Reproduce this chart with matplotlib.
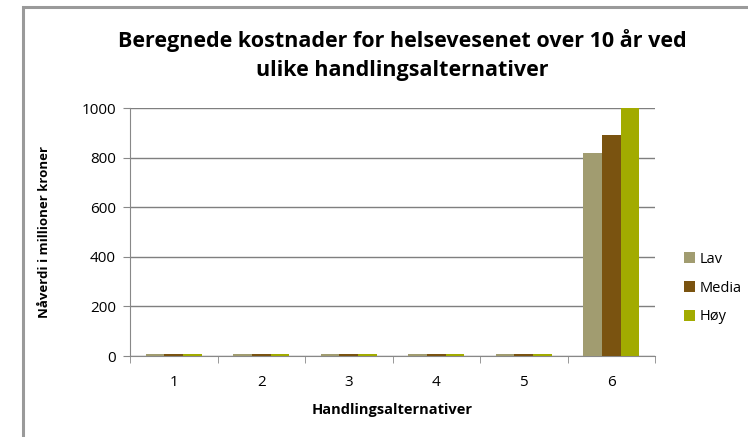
import numpy as np
import matplotlib
matplotlib.use("Agg")
from matplotlib import pyplot as plt
from matplotlib.patches import Rectangle

# data
alternativer = ["1", "2", "3", "4", "5", "6"]
lav = [8, 8, 8, 8, 8, 818]
medium = [8, 8, 8, 8, 8, 891]
hoy = [8, 8, 8, 8, 8, 1000]
serier = ["Lav", "Media", "Høy"]
farger = ["#A19C70", "#7A5310", "#A2AB00"]

plt.rcParams['font.family'] = ['Open Sans', 'DejaVu Sans']

fig = plt.figure(figsize=(7.48, 4.37), dpi=100)
fig.patches.append(Rectangle((23 / 748, -0.1), 1.2, (437 - 7) / 437 + 0.1,
                             transform=fig.transFigure, fill=False,
                             edgecolor="#9a9a9a", linewidth=2.2))

ax = fig.add_axes([130 / 748, 81 / 437, 525 / 748, 248 / 437])

x = np.arange(len(alternativer))
w = 0.215
for i, (vals, navn, farge) in enumerate(zip([lav, medium, hoy], serier, farger)):
    ax.bar(x + (i - 1) * w, vals, width=w, color=farge, label=navn, zorder=3)

ax.set_xlim(-0.5, len(alternativer) - 0.5)
ax.set_ylim(0, 1000)
ax.set_yticks(range(0, 1001, 200))
ax.set_xticks(x)
ax.set_xticklabels(alternativer)
ax.set_xticks(np.arange(-0.5, len(alternativer)), minor=True)
ax.tick_params(axis="x", which="major", length=0, pad=14, labelsize=11)
ax.tick_params(axis="x", which="minor", length=5, color="#888888", direction="out")
ax.tick_params(axis="y", length=5, color="#888888", labelsize=11, pad=5)

ax.grid(axis="y", color="#7f7f7f", linewidth=1.0, zorder=0)
for s in ["top", "right"]:
    ax.spines[s].set_visible(False)
ax.spines["left"].set_color("#888888")
ax.spines["bottom"].set_color("#888888")

ax.set_xlabel("Handlingsalternativer", fontsize=10.5, fontweight="bold", labelpad=9)
ax.set_ylabel("Nåverdi i millioner kroner", fontsize=9.5, fontweight="bold", labelpad=22)

fig.text(402 / 748, 1 - 55 / 437,
         "Beregnede kostnader for helsevesenet over 10 år ved\nulike handlingsalternativer",
         ha="center", va="center", fontsize=15.5, fontweight="bold", linespacing=1.45)

fig.legend(loc="center left", bbox_to_anchor=(684 / 748, 1 - 288 / 437), frameon=False,
           fontsize=10.5, handlelength=0.75, handleheight=0.75, handletextpad=0.3,
           labelspacing=0.95, borderaxespad=0, borderpad=0)

fig.savefig("out.png", dpi=100)
